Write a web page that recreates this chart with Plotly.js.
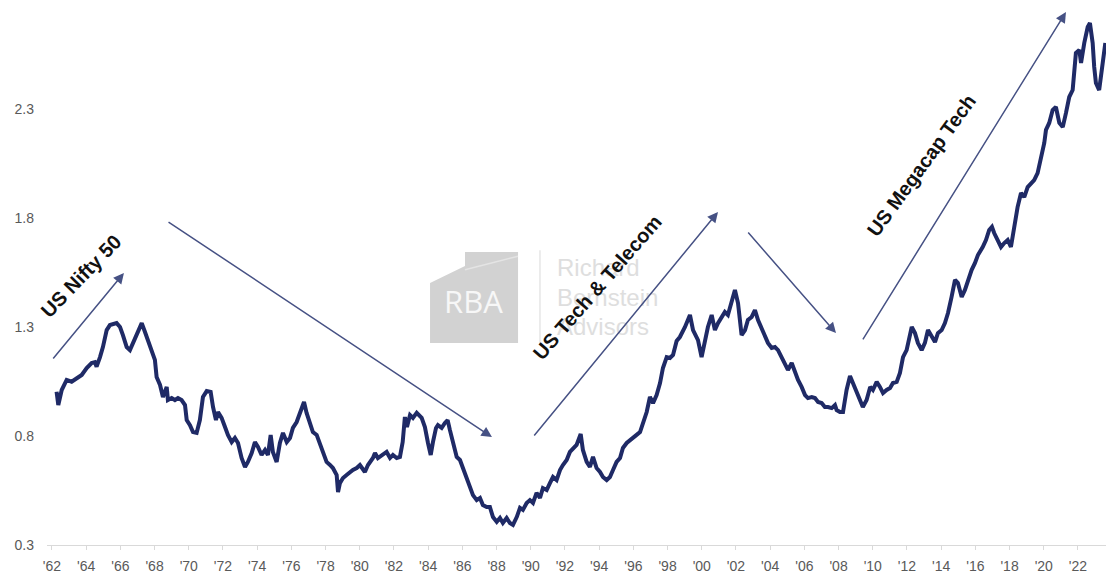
<!DOCTYPE html>
<html>
<head>
<meta charset="utf-8">
<script src="https://cdn.plot.ly/plotly-3.0.1.min.js"></script>
<style>html,body{margin:0;padding:0;background:#fff;}#chart{width:1106px;height:580px;}</style>
</head>
<body>
<div id="chart"></div>
<script>
// ---- Data ----
const years = [
1962.27,1962.37,1962.57,1962.86,1963.15,1963.44,1963.74,1964.03,1964.32,1964.51,1964.61,1964.81,1964.98,1965.20,1965.39,1965.78,1965.98,1966.15,1966.37,1966.56,1966.74,1966.95,1967.25,1967.44,1967.61,1967.83,1968.02,1968.12,1968.32,1968.49,1968.71,1968.78,1969.00,1969.19,1969.37,1969.58,1969.78,1969.88,1970.07,1970.25,1970.46,1970.65,1970.83,1971.05,1971.28,
1971.42,1971.59,1971.71,1971.92,1972.12,1972.29,1972.51,1972.70,1972.88,1973.09,1973.29,1973.46,1973.68,1973.87,1974.05,1974.26,1974.46,1974.63,1974.79,1974.92,1975.14,1975.33,1975.51,1975.73,1975.92,1976.09,1976.31,1976.50,1976.74,1976.89,1977.09,1977.26,1977.48,1977.67,1977.85,1978.06,1978.26,1978.43,1978.65,1978.73,1978.84,1979.02,1979.23,1979.43,1979.60,1979.82,1980.01,
1980.30,1980.48,1980.77,1980.89,1981.06,1981.28,1981.57,1981.77,1981.94,1982.16,1982.35,1982.51,1982.64,1982.76,1982.94,1983.11,1983.33,1983.62,1983.81,1983.99,1984.15,1984.28,1984.46,1984.57,1984.79,1984.98,1985.14,1985.27,1985.45,1985.67,1985.86,1986.04,1986.25,1986.44,1986.62,1986.84,1987.03,1987.20,1987.42,1987.61,1987.79,1988.01,1988.20,1988.37,1988.59,1988.78,1988.96,1989.18,1989.37,
1989.54,1989.76,1989.95,1990.13,1990.34,1990.54,1990.71,1990.93,1991.12,1991.30,1991.51,1991.71,1991.88,1992.10,1992.29,1992.47,1992.68,1992.92,1993.05,1993.27,1993.46,1993.64,1993.85,1994.05,1994.22,1994.44,1994.63,1994.81,1995.02,1995.22,1995.39,1995.61,1995.80,1995.98,1996.19,1996.39,1996.56,1996.78,1996.97,1997.15,1997.36,1997.56,1997.73,1997.95,1998.14,1998.32,1998.53,1998.72,
1999.02,1999.31,1999.49,1999.78,1999.99,2000.19,2000.36,2000.58,2000.77,2000.95,2001.16,2001.35,2001.53,2001.75,2001.94,2002.12,2002.33,2002.53,2002.70,2002.92,2003.11,2003.29,2003.50,2003.70,2003.87,2004.09,2004.28,2004.46,2004.67,2004.87,2005.04,2005.26,2005.45,2005.63,2005.84,2006.04,2006.21,2006.43,2006.62,2006.80,2007.01,2007.20,2007.38,2007.60,2007.79,2007.89,2008.08,2008.26,
2008.47,2008.67,2008.84,2009.06,2009.25,2009.42,2009.64,2009.85,2010.01,2010.23,2010.42,2010.60,2010.81,2011.01,2011.18,2011.40,2011.59,2011.77,2011.98,2012.18,2012.28,2012.47,2012.64,2012.86,2013.05,2013.23,2013.44,2013.64,2013.81,2014.03,2014.22,2014.40,2014.61,2014.81,2014.98,2015.20,2015.39,2015.57,2015.78,2015.98,2016.15,
2016.43,2016.62,2016.81,2016.97,2017.10,2017.30,2017.50,2017.69,2017.89,2018.08,2018.27,2018.47,2018.67,2018.86,2019.06,2019.25,2019.44,2019.64,2019.84,2020.03,2020.13,2020.32,2020.52,2020.71,2020.91,2021.11,2021.30,2021.49,2021.69,2021.78,2021.88,2022.08,2022.18,2022.37,2022.57,2022.70,2022.86,2022.95,2023.05,2023.24,2023.44,2023.60
];
const values = [
1.003,0.942,1.011,1.057,1.049,1.066,1.080,1.112,1.135,1.139,1.118,1.162,1.208,1.286,1.309,1.318,1.300,1.263,1.208,1.194,1.227,1.272,1.318,1.277,1.240,1.181,1.149,1.071,1.034,0.979,1.025,0.965,0.974,0.965,0.974,0.965,0.942,0.873,0.850,0.818,0.814,0.873,0.979,1.006,1.002,
0.933,0.873,0.910,0.883,0.841,0.805,0.772,0.791,0.768,0.699,0.658,0.681,0.722,0.772,0.750,0.713,0.736,0.713,0.805,0.727,0.681,0.768,0.814,0.772,0.791,0.837,0.864,0.906,0.956,0.906,0.860,0.818,0.805,0.768,0.727,0.681,0.667,0.653,0.621,0.543,0.584,0.607,0.621,0.635,0.644,0.653,0.667,
0.635,0.667,0.699,0.722,0.699,0.713,0.727,0.699,0.713,0.699,0.704,0.772,0.887,0.841,0.896,0.883,0.906,0.883,0.841,0.768,0.713,0.772,0.837,0.850,0.837,0.860,0.873,0.828,0.772,0.704,0.690,0.653,0.607,0.566,0.529,0.506,0.516,0.483,0.474,0.474,0.428,0.406,0.424,0.401,0.424,0.401,0.392,0.428,0.470,
0.461,0.493,0.506,0.493,0.539,0.516,0.561,0.552,0.584,0.612,0.598,0.644,0.667,0.690,0.727,0.745,0.759,0.809,0.736,0.681,0.658,0.704,0.653,0.635,0.612,0.598,0.612,0.644,0.681,0.699,0.745,0.768,0.782,0.795,0.805,0.818,0.860,0.910,0.979,0.951,0.988,1.043,1.112,1.162,1.158,1.172,1.236,1.254,
1.300,1.355,1.286,1.240,1.162,1.240,1.300,1.355,1.286,1.318,1.341,1.369,1.355,1.410,1.470,1.410,1.263,1.286,1.332,1.346,1.378,1.332,1.295,1.254,1.227,1.204,1.208,1.194,1.162,1.126,1.103,1.135,1.094,1.057,1.025,0.988,0.974,0.979,0.974,0.956,0.951,0.933,0.933,0.928,0.942,0.919,0.910,0.910,
1.011,1.075,1.043,0.997,0.965,0.933,0.965,1.025,1.011,1.048,1.025,0.997,1.011,1.020,1.043,1.048,1.089,1.162,1.194,1.254,1.300,1.272,1.227,1.194,1.227,1.286,1.254,1.231,1.272,1.286,1.318,1.364,1.438,1.516,1.502,1.438,1.470,1.516,1.561,1.594,1.630,
1.667,1.699,1.745,1.759,1.731,1.699,1.667,1.685,1.699,1.667,1.759,1.850,1.915,1.896,1.942,1.961,1.974,2.006,2.080,2.144,2.204,2.236,2.295,2.309,2.236,2.217,2.282,2.355,2.387,2.493,2.557,2.571,2.511,2.603,2.676,2.694,2.603,2.493,2.419,2.387,2.511,2.603
];

// x ticks every two years
const xTickYears = [1962,1964,1966,1968,1970,1972,1974,1976,1978,1980,1982,1984,1986,1988,1990,1992,1994,1996,1998,2000,2002,2004,2006,2008,2010,2012,2014,2016,2018,2020,2022];
const xTickLabels = ["'62","'64","'66","'68","'70","'72","'74","'76","'78","'80","'82","'84","'86","'88","'90","'92","'94","'96","'98","'00","'02","'04","'06","'08","'10","'12","'14","'16","'18","'20","'22"];
const yTickVals = [0.3,0.8,1.3,1.8,2.3];
const yTickLabels = ["0.3","0.8","1.3","1.8","2.3"];

// Era arrows (tail -> head), in data units
const arrowTailX = [1962.0, 1968.73, 1990.13, 2002.64, 2009.37];
const arrowTailY = [1.149, 1.786, 0.795, 1.740, 1.236];
const arrowHeadX = [1966.21, 1987.73, 2000.95, 2007.85, 2021.30];
const arrowHeadY = [1.548, 0.795, 1.828, 1.272, 2.745];

// Era labels
const eraLabels = ["US Nifty 50", "US Tech & Telecom", "US Megacap Tech"];
const eraX = [1963.70, 1993.90, 2012.85];
const eraY = [1.535, 1.485, 2.045];
const eraAngle = [-46, -49, -54];

const NAVY = '#1f2a66';
const ARROW = '#465184';
const TICKFONT = {family: 'Liberation Sans, Arial, sans-serif', size: 14, color: '#595959'};

const annotations = [];
// Watermark
annotations.push({xref:'paper', yref:'paper', x:0.4032, y:0.448, text:'RBA', showarrow:false,
  font:{family:'Open Sans, sans-serif', size:31, color:'#f7f7f7'}, xanchor:'center', yanchor:'middle'});
const wmLines = ['Richard','Bernstein','Advisors'];
const wmY = [0.5083, 0.455, 0.4018];
wmLines.forEach((t,i)=>annotations.push({xref:'paper', yref:'paper', x:0.4797, y:wmY[i], text:t, showarrow:false,
  font:{family:'Liberation Sans, Arial, sans-serif', size:24, color:'#dedede'}, xanchor:'left', yanchor:'middle'}));

for (let i = 0; i < arrowTailX.length; i++) {
  annotations.push({x: arrowHeadX[i], y: arrowHeadY[i], ax: arrowTailX[i], ay: arrowTailY[i],
    xref:'x', yref:'y', axref:'x', ayref:'y', text:'', showarrow:true,
    arrowhead:2, arrowsize:1.4, arrowwidth:1.5, arrowcolor: ARROW, standoff:0, startstandoff:0});
}
for (let i = 0; i < eraLabels.length; i++) {
  annotations.push({x: eraX[i], y: eraY[i], xref:'x', yref:'y', text:'<b>'+eraLabels[i]+'</b>', showarrow:false,
    textangle: eraAngle[i], font:{family:'Liberation Sans, Arial, sans-serif', size:20, color:'#111111'},
    xanchor:'center', yanchor:'middle'});
}

const shapes = [
  {type:'path', xref:'paper', yref:'paper', layer:'below',
   path:'M0.3617,0.4807 L0.3947,0.5119 L0.3947,0.5376 L0.4448,0.5376 L0.4448,0.3706 L0.3617,0.3706 Z',
   fillcolor:'#d2d2d2', line:{width:0}},
  {type:'line', xref:'paper', yref:'paper', layer:'below', x0:0.3947, y0:0.505, x1:0.4448, y1:0.530,
   line:{color:'#e4e4e4', width:1.5}},
  {type:'line', xref:'paper', yref:'paper', layer:'below', x0:0.4655, y0:0.367, x1:0.4655, y1:0.541,
   line:{color:'#e6e6e6', width:1.5}}
];

const layout = {
  width:1106, height:580,
  margin:{l:47, r:0, t:0, b:35, pad:0},
  paper_bgcolor:'#ffffff', plot_bgcolor:'#ffffff',
  showlegend:false,
  xaxis:{range:[1961.71, 2023.64], tickmode:'array', tickvals:xTickYears, ticktext:xTickLabels,
    showgrid:false, zeroline:false, showline:true, linecolor:'#d9d9d9', linewidth:1,
    ticks:'outside', ticklen:4, tickcolor:'#d9d9d9', tickfont:TICKFONT, ticklabelstandoff:4, fixedrange:true},
  yaxis:{range:[0.3, 2.8], tickmode:'array', tickvals:yTickVals, ticktext:yTickLabels,
    showgrid:false, zeroline:false, showline:false, ticks:'', tickfont:TICKFONT, ticklabelstandoff:12, fixedrange:true},
  annotations: annotations,
  shapes: shapes
};

Plotly.newPlot('chart', [{x: years, y: values, type:'scatter', mode:'lines',
  line:{color: NAVY, width:4}, hoverinfo:'skip'}], layout, {staticPlot:true, displayModeBar:false});
</script>
</body>
</html>
